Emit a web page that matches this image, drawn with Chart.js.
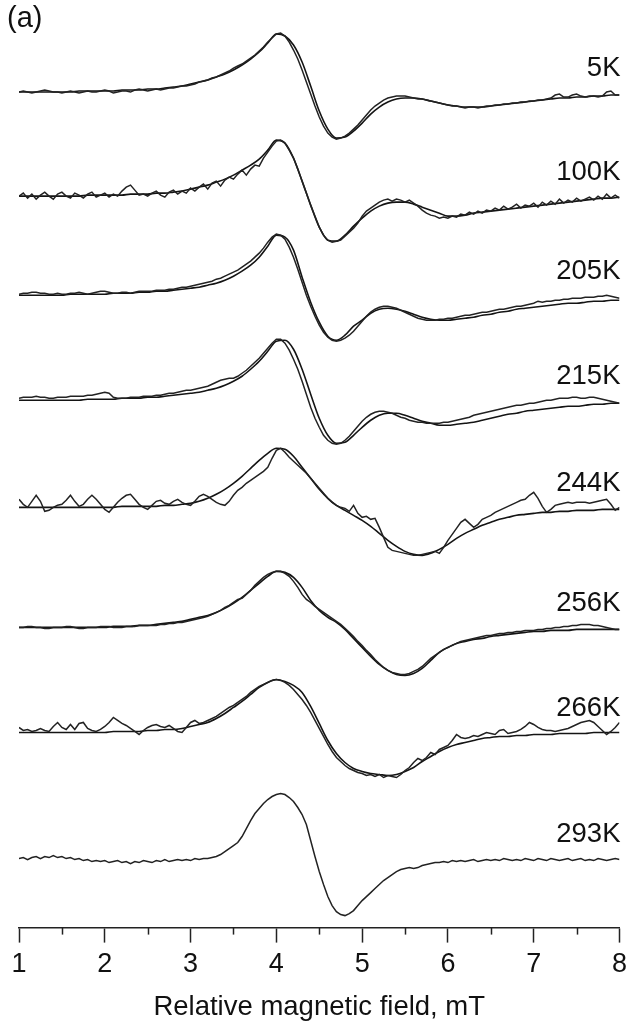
<!DOCTYPE html>
<html>
<head>
<meta charset="utf-8">
<script src="https://cdn.jsdelivr.net/npm/chart.js@4.4.1/dist/chart.umd.min.js"></script>
<style>
   html, body { margin: 0; padding: 0; background: #fff; }
   canvas { display: block; }
</style>
</head>
<body>
<canvas id="eprChart" width="633" height="1025"></canvas>
<script>

// temperatures and baseline offsets of the stacked spectra (intensity, arb. units)
const temps   = ['5K', '100K', '205K', '215K', '244K', '256K', '266K', '293K'];
const offsets = [835, 731, 632, 527, 420, 300, 195, 69];

// field axis, mT: fits sampled every 0.1, experimental every 0.05
const fieldFit = [];
for (let i = 0; i <= 70; i++) fieldFit.push(+(1 + i * 0.1).toFixed(2));
const fieldExp = [];
for (let i = 0; i <= 140; i++) fieldExp.push(+(1 + i * 0.05).toFixed(2));

// ---- experimental spectra (1.00 .. 8.00 mT, step 0.05)
const exp5K = [
   0,1,0,-1,0,1,2,1,0,0,  -1,0,1,0,-1,0,1,0,0,1,  2,1,-1,0,1,1,0,2,3,2,  1,2,3,2,3,4,4,5,6,6,
   7,8,10,11,12,14,15,17,19,21,  24,26,28,31,34,37,41,45,50,54,  58,59,56,50,42,33,22,10,-2,-14,
   -25,-34,-41,-45,-47,-46,-44,-41,-37,-33,  -28,-23,-18,-14,-11,-8,-6,-5,-4,-4,
   -4,-5,-6,-7,-7,-8,-9,-10,-11,-12,  -13,-14,-14,-15,-16,-15,-15,-16,-15,-14,
   -14,-13,-13,-12,-12,-11,-11,-10,-10,-9,  -9,-8,-8,-7,-6,-3,-2,-5,-5,-3,
   -2,-4,-5,-4,-4,-5,-4,0,1,-3,  -3
];
const exp100K = [
   0,3,-2,2,-3,1,4,0,-3,2,  4,0,-2,3,1,-2,2,4,-1,1,  3,-1,2,0,5,9,11,6,1,2,  0,3,5,1,-1,4,6,2,5,3,
   8,5,9,12,7,13,15,10,16,19,  17,22,26,21,27,31,30,38,44,50,  55,56,53,46,38,27,15,3,-9,-20,
   -31,-39,-44,-46,-45,-44,-40,-36,-32,-27,  -20,-15,-12,-9,-6,-4,-3,-5,-3,-4,
   -6,-4,-7,-10,-14,-17,-19,-20,-22,-21,  -22,-20,-21,-18,-19,-16,-18,-15,-17,-14,
   -15,-12,-14,-10,-13,-11,-8,-12,-9,-10,  -7,-11,-6,-9,-5,-8,-3,-7,-4,-6,
   -2,-5,-3,-1,-4,0,-3,2,-2,1,  -2
];
const exp205K = [
   1,2,2,3,3,2,2,1,1,2,  1,1,2,2,3,2,1,2,3,4,  4,3,2,2,3,3,2,3,4,4,  4,4,5,5,5,6,6,7,8,8,
   9,10,11,12,13,14,16,17,19,21,  23,25,28,31,34,38,42,47,53,58,  61,60,56,48,38,26,13,0,-11,-21,
   -30,-37,-42,-45,-46,-45,-43,-40,-36,-31,  -26,-21,-17,-14,-12,-11,-11,-12,-13,-15,
   -17,-19,-21,-23,-24,-25,-25,-25,-24,-24,  -23,-23,-22,-21,-20,-20,-19,-18,-17,-17,
   -16,-15,-14,-14,-13,-12,-11,-11,-10,-9,  -8,-6,-7,-6,-6,-5,-5,-4,-4,-3,
   -3,-3,-2,-2,-2,-1,-1,0,-1,-2,  -3
];
const exp215K = [
   2,3,3,3,4,3,3,2,2,3,  3,3,4,4,4,4,5,5,6,7,  8,7,3,2,2,2,3,3,3,4,  4,4,5,5,6,7,7,8,9,10,
   10,11,12,13,14,16,18,20,21,22,  22,24,27,30,34,38,42,47,52,57,  61,61,57,50,41,31,19,6,-7,-18,
   -27,-35,-40,-43,-44,-43,-40,-36,-31,-26,  -21,-17,-14,-12,-11,-11,-12,-13,-15,-17,
   -18,-20,-21,-22,-22,-23,-23,-23,-23,-22,  -22,-21,-20,-19,-18,-17,-15,-14,-13,-12,
   -11,-10,-9,-8,-7,-6,-5,-5,-4,-3,  -3,-2,-1,0,0,1,2,2,2,3,
   3,2,2,3,3,2,1,0,-1,-2,  -3
];
const exp244K = [
   8,3,0,6,12,6,-4,-3,0,2,  3,7,12,6,1,3,8,12,8,3,  -2,-5,0,5,9,12,13,8,3,0,  -2,2,6,7,4,3,6,8,5,3,
   2,6,11,13,11,8,5,3,2,6,  12,17,20,24,27,30,33,36,40,49,  57,59,55,50,46,42,38,34,29,24,
   19,14,9,5,2,0,-1,-4,2,-6,  -10,-9,-12,-11,-20,-30,-40,-43,-44,-45,
   -46,-47,-48,-48,-47,-46,-45,-44,-46,-40,  -33,-27,-21,-15,-12,-16,-20,-17,-12,-10,
   -8,-5,-3,-1,1,3,5,7,8,12,  15,9,1,-5,-2,2,3,4,5,4,
   5,5,5,4,5,6,7,8,3,-3,  0
];
const exp256K = [
   0,0,1,1,0,0,-1,-1,0,0,  0,1,1,0,-1,-1,0,0,0,1,  1,1,0,0,0,1,1,1,2,2,  2,2,2,3,3,4,4,5,5,6,
   7,8,9,10,11,13,15,17,20,22,  25,28,29,33,37,42,46,50,53,55,  56,56,54,51,46,40,33,28,25,21,
   18,15,12,9,6,3,-1,-5,-9,-14,  -18,-23,-27,-32,-36,-40,-43,-45,-46,-47,
   -47,-46,-44,-42,-39,-35,-31,-28,-25,-22,  -20,-18,-16,-14,-13,-12,-11,-10,-9,-8,
   -8,-7,-6,-6,-5,-5,-4,-4,-3,-3,  -3,-2,-2,-1,-1,0,0,1,1,2,
   2,3,3,3,2,2,1,0,-1,-2,  -2
];
const exp266K = [
   5,2,3,1,2,4,2,1,6,10,  5,3,8,3,9,10,4,2,1,3,  6,10,15,12,9,7,4,1,-2,2,  5,7,8,6,5,7,4,1,0,5,
   10,12,9,10,12,14,16,19,22,25,  27,30,33,36,40,43,46,48,50,52,  53,52,50,47,43,38,33,27,20,12,
   4,-4,-12,-19,-25,-29,-33,-36,-38,-40,  -41,-43,-42,-44,-42,-45,-43,-44,-45,-42,
   -38,-35,-30,-26,-28,-25,-20,-22,-17,-15,  -13,-8,-2,-5,-6,-5,-3,-4,-2,0,
   -1,-2,2,3,-1,0,1,3,6,10,  8,5,3,2,2,1,2,3,4,6,
   8,10,11,12,10,6,2,-2,1,5,  10
];
const exp293K = [
   0,1,-1,1,2,0,2,1,3,1,  2,0,1,-1,0,-2,-1,-3,-2,-3,  -2,-4,-3,-2,-4,-3,-5,-3,-4,-2,  -3,-4,-2,-3,-1,-3,-2,-1,-2,-1,
   -2,0,-1,0,0,1,2,4,7,10,  13,16,22,30,38,45,50,55,59,62,  64,65,64,61,57,51,44,34,18,2,
   -13,-26,-38,-47,-53,-56,-57,-55,-52,-47,  -42,-38,-34,-30,-26,-22,-19,-16,-13,-11,
   -10,-9,-10,-9,-7,-6,-5,-4,-4,-3,  -4,-2,-3,-2,-3,-2,-1,-3,-2,-1,
   -2,-1,-2,0,-1,-2,-1,-2,0,-1,  -2,0,-1,-2,0,-1,-2,-1,0,-2,
   -1,0,-2,-1,-2,0,-1,-2,-1,0,  -1
];

// ---- simulated fits (1.0 .. 8.0 mT, step 0.1)
const fit5K = [
   0,0,0,0,0,0,0,1,1,1,  1,1,2,2,2,3,3,4,5,6,  8,10,12,15,18,22,27,33,40,49,
   58,56,47,30,6,-19,-37,-46,-45,-39,  -31,-22,-15,-10,-7,-6,-6,-7,-9,-11,
   -13,-14,-15,-15,-15,-14,-13,-12,-11,-10,  -9,-8,-7,-6,-6,-5,-5,-4,-4,-3,  -3
];
const fit100K = [
   0,0,0,0,0,0,0,0,1,1,  1,1,1,2,2,2,3,3,4,5,  7,9,11,14,17,21,26,31,37,46,
   56,53,38,15,-9,-31,-44,-45,-39,-30,  -22,-15,-10,-7,-6,-6,-8,-11,-14,-17,
   -20,-20,-19,-17,-16,-15,-14,-13,-12,-11,  -10,-9,-8,-7,-6,-5,-4,-3,-2,-2,  -1
];
const fit205K = [
   0,0,0,0,0,0,1,1,1,1,  1,2,2,2,3,3,4,4,5,6,  7,8,10,12,15,19,24,30,38,49,
   60,58,45,18,-7,-27,-41,-45,-40,-31,  -25,-18,-14,-13,-14,-16,-19,-22,-24,-25,
   -25,-24,-23,-22,-20,-19,-17,-16,-14,-13,  -12,-11,-10,-9,-8,-8,-7,-6,-6,-5,  -5
];
const fit215K = [
   0,0,0,0,0,0,0,0,1,1,  1,1,2,2,2,3,3,4,5,6,  7,8,10,12,15,19,24,31,39,49,
   59,60,51,31,6,-18,-35,-43,-42,-35,  -27,-20,-15,-13,-13,-15,-18,-21,-23,-25,
   -25,-24,-23,-22,-20,-18,-16,-14,-13,-11,  -10,-9,-8,-7,-6,-6,-5,-4,-4,-3,  -3
];
const fit244K = [
   0,0,0,0,0,0,0,0,0,0,  0,0,1,1,1,1,1,2,2,3,  4,6,9,13,18,24,31,39,47,54,
   59,58,51,40,29,18,9,2,-3,-8,  -13,-19,-26,-33,-39,-44,-47,-48,-46,-42,
   -37,-31,-26,-22,-18,-15,-12,-10,-8,-7,  -6,-5,-5,-4,-4,-3,-3,-3,-2,-2,  -2
];
const fit256K = [
   0,0,0,0,0,0,0,0,0,0,  0,1,1,1,2,2,3,4,5,6,  8,10,12,15,19,24,30,37,44,51,
   56,55,50,40,27,17,10,5,-2,-11,  -20,-29,-37,-43,-47,-48,-46,-41,-33,-25,
   -20,-16,-14,-12,-11,-9,-8,-7,-6,-5,  -4,-4,-3,-3,-3,-2,-2,-2,-2,-2,  -2
];
const fit266K = [
   0,0,0,0,0,0,0,0,0,0,  0,1,1,1,1,2,2,3,3,4,  6,8,10,14,19,25,31,38,45,50,
   53,51,47,40,26,9,-8,-21,-30,-36,  -39,-41,-42,-43,-42,-39,-35,-29,-24,-19,
   -15,-12,-10,-8,-6,-5,-4,-4,-3,-3,  -2,-2,-2,-1,-1,-1,-1,0,0,0,  0
];

const experimental = [exp5K, exp100K, exp205K, exp215K, exp244K, exp256K, exp266K, exp293K];
const fits         = [fit5K, fit100K, fit205K, fit215K, fit244K, fit256K, fit266K, null];

// build the line datasets (experimental + fit) for every temperature
const datasets = [];
temps.forEach((t, i) => {
   datasets.push({
      label: t + ' experiment',
      data: experimental[i].map((v, j) => ({ x: fieldExp[j], y: offsets[i] + v })),
      borderColor: '#222',
      borderWidth: 1.5,
      tension: 0
   });
   if (fits[i]) {
      datasets.push({
         label: t + ' fit',
         data: fits[i].map((v, j) => ({ x: fieldFit[j], y: offsets[i] + v })),
         borderColor: '#141414',
         borderWidth: 1.6,
         cubicInterpolationMode: 'monotone'
      });
   }
});

const FONT = '"Liberation Sans", Arial, Helvetica, sans-serif';

// temperature labels, minor ticks and the panel letter
const annotations = {
   id: 'annotations',
   afterDraw(chart) {
      const { ctx, scales: { x, y } } = chart;
      ctx.save();
      ctx.strokeStyle = '#222';
      ctx.lineWidth = 1.5;
      x.ticks.forEach(tk => {
         if (Number.isInteger(tk.value)) return;
         const px = Math.round(x.getPixelForValue(tk.value)) + 0.5;
         ctx.beginPath();
         ctx.moveTo(px, x.top);
         ctx.lineTo(px, x.top + 7);
         ctx.stroke();
      });
      ctx.fillStyle = '#111';
      ctx.font = '27.5px ' + FONT;
      ctx.textAlign = 'right';
      ctx.textBaseline = 'middle';
      temps.forEach((t, i) => {
         ctx.fillText(t, x.getPixelForValue(8) + 1, y.getPixelForValue(offsets[i] + 24));
      });
      ctx.textAlign = 'left';
      ctx.font = '29px ' + FONT;
      ctx.fillText('(a)', 7, 19);
      ctx.restore();
   }
};

const ctx = document.getElementById('eprChart').getContext('2d');
const eprChart = new Chart(ctx, {
   type: 'line',
   data: { datasets: datasets },
   plugins: [annotations],
   options: {
      responsive: false,
      animation: false,
      devicePixelRatio: 1,
      layout: { padding: { left: 19, right: 11, top: 0, bottom: 1 } },
      elements: { point: { radius: 0 } },
      plugins: {
         legend: { display: false },
         tooltip: { enabled: false }
      },
      scales: {
         x: {
            type: 'linear',
            min: 1,
            max: 8,
            border: { display: true, color: '#222', width: 1.5 },
            grid: {
               display: true,
               drawOnChartArea: false,
               tickLength: 15,
               tickWidth: 1.5,
               tickColor: c => Number.isInteger(c.tick && c.tick.value) ? '#222' : 'rgba(0,0,0,0)'
            },
            ticks: {
               stepSize: 0.5,
               autoSkip: false,
               maxRotation: 0,
               padding: 6,
               color: '#111',
               font: { family: FONT, size: 27 },
               callback: v => Number.isInteger(v) ? v : ''
            },
            title: {
               display: true,
               text: 'Relative magnetic field, mT',
               color: '#111',
               font: { family: FONT, size: 27.5 },
               padding: { top: 4, bottom: 0 }
            }
         },
         y: {
            display: false,
            min: 0,
            max: 927
         }
      }
   }
}); // end of eprChart

</script>
</body>
</html>
